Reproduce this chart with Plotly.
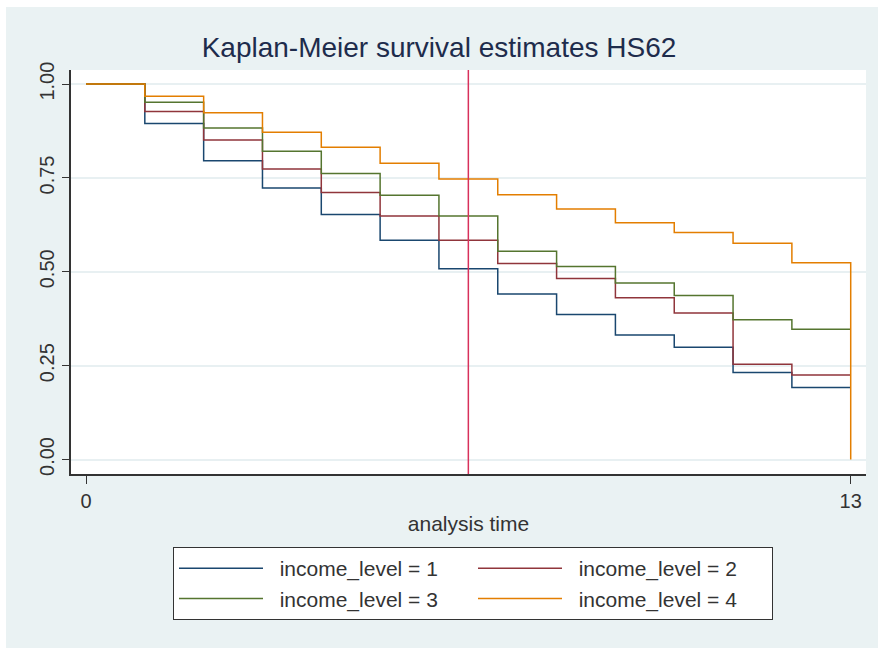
import plotly.graph_objects as go

# ---- data ----
times = [0, 1, 2, 3, 4, 5, 6, 7, 8, 9, 10, 11, 12, 13]
group_names = ["income_level = 1", "income_level = 2", "income_level = 3", "income_level = 4"]
surv_1 = [1.0, 0.895, 0.796, 0.723, 0.653, 0.584, 0.508, 0.441, 0.386, 0.332, 0.299, 0.232, 0.192, 0.192]
surv_2 = [1.0, 0.927, 0.851, 0.774, 0.711, 0.649, 0.584, 0.522, 0.482, 0.431, 0.390, 0.254, 0.225, 0.225]
surv_3 = [1.0, 0.952, 0.883, 0.821, 0.762, 0.704, 0.649, 0.555, 0.514, 0.470, 0.437, 0.372, 0.347, 0.347]
surv_4 = [1.0, 0.968, 0.924, 0.872, 0.832, 0.789, 0.747, 0.705, 0.667, 0.631, 0.605, 0.576, 0.524, 0.0]
cutoff_time = 6.5
y_ticks = [0.0, 0.25, 0.5, 0.75, 1.0]
y_tick_labels = ["0.00", "0.25", "0.50", "0.75", "1.00"]
x_ticks = [0, 13]
x_tick_labels = ["0", "13"]

colors = ["#1A476F", "#90353B", "#55752F", "#E37E00"]
FONT = "Liberation Sans, Arial, sans-serif"
PAD = "\u00a0\u00a0"  # small gap between legend line sample and label

fig = go.Figure()
for name, ys, col in zip(group_names, [surv_1, surv_2, surv_3, surv_4], colors):
    fig.add_trace(go.Scatter(
        x=times, y=ys, mode="lines", name=PAD + name,
        line=dict(color=col, width=1.5, shape="hv"),
    ))

# vertical reference line
fig.add_shape(type="line", xref="x", yref="paper", x0=cutoff_time, x1=cutoff_time,
              y0=0, y1=1, line=dict(color="#D8315B", width=1.5), layer="above")

W, H = 878, 648
L, R, T, B = 71, 12, 70, 174
pw, ph = W - L - R, H - T - B

# white strips at top and left edge of the page
fig.add_shape(type="rect", xref="paper", yref="paper",
              x0=-L / pw, x1=(6 - L) / pw, y0=-B / ph, y1=1 + T / ph,
              line=dict(width=0), fillcolor="white", layer="below")
fig.add_shape(type="rect", xref="paper", yref="paper",
              x0=-L / pw, x1=1 + R / pw, y0=1 + (T - 7) / ph, y1=1 + T / ph,
              line=dict(width=0), fillcolor="white", layer="below")

fig.update_layout(
    width=W, height=H,
    margin=dict(l=L, r=R, t=T, b=B),
    paper_bgcolor="#EAF2F3",
    plot_bgcolor="white",
    font=dict(family=FONT, color="#333333"),
    title=dict(text="Kaplan-Meier survival estimates HS62",
               x=0.5, xref="container", xanchor="center",
               y=1 - 47 / H, yref="container", yanchor="middle",
               font=dict(size=28, color="#1E2C4C", family=FONT)),
    showlegend=True,
    legend=dict(
        orientation="h",
        x=(173 - L) / pw, xanchor="left",
        y=-(547 - (H - B)) / ph, yanchor="top",
        bgcolor="white", bordercolor="#333333", borderwidth=1,
        font=dict(size=21, color="#333333", family=FONT),
        entrywidth=200, entrywidthmode="pixels",
        itemwidth=84,
        traceorder="normal",
    ),
)

fig.update_xaxes(
    range=[-0.255, 13.26],
    tickmode="array", tickvals=x_ticks, ticktext=x_tick_labels,
    ticks="outside", ticklen=8, tickwidth=1.2, tickcolor="#333333",
    tickfont=dict(size=20, color="#333333"),
    showgrid=False, zeroline=False,
    showline=True, linecolor="#333333", linewidth=1.5,
    title=dict(text="analysis time", font=dict(size=21, color="#333333"), standoff=6),
    fixedrange=True,
)
fig.update_yaxes(
    range=[-0.0386, 1.0376],
    tickmode="array", tickvals=y_ticks, ticktext=y_tick_labels,
    ticks="outside", ticklen=7, tickwidth=1.2, tickcolor="#333333",
    tickangle=-90,
    tickfont=dict(size=20, color="#333333"),
    showgrid=True, gridcolor="#E8F0F2", gridwidth=1.5,
    zeroline=False,
    showline=True, linecolor="#333333", linewidth=1.5,
    fixedrange=True,
)

fig.write_html("out.html", config={"displayModeBar": False})
